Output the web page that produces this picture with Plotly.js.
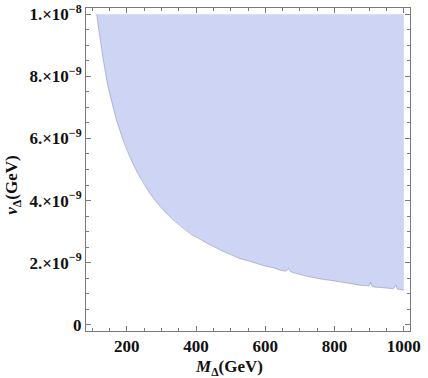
<!DOCTYPE html>
<html>
<head>
<meta charset="utf-8">
<script src="https://cdn.plot.ly/plotly-3.0.1.min.js"></script>
<style>
  html, body { margin: 0; padding: 0; background: #fff; }
  #chart { width: 428px; height: 378px; }
</style>
</head>
<body>
<div id="chart"></div>
<script>
// Allowed region boundary (lower edge)
const massGeV = [113, 119, 125, 131, 137, 145, 156, 170, 188, 199, 215, 232, 250, 267, 285, 310, 335, 362, 390, 405, 420, 441, 460, 475, 500, 527, 550, 571, 600, 623, 643, 660, 667, 675, 700, 721, 745, 768, 790, 817, 835, 855, 875, 900, 904, 908, 913, 935, 953, 970, 977, 982, 1000];
const vevBoundary = [10.0, 9.5, 9.05, 8.6, 8.2, 7.7, 7.2, 6.6, 5.98, 5.66, 5.25, 4.87, 4.52, 4.23, 3.96, 3.64, 3.37, 3.12, 2.88, 2.80, 2.70, 2.57, 2.47, 2.38, 2.26, 2.13, 2.06, 1.99, 1.89, 1.84, 1.76, 1.73, 1.81, 1.70, 1.62, 1.56, 1.51, 1.46, 1.43, 1.38, 1.35, 1.31, 1.27, 1.26, 1.37, 1.24, 1.22, 1.20, 1.18, 1.16, 1.27, 1.15, 1.12]; // units of 1e-9 GeV
const vevCap = 10.0; // upper edge of scanned region, 1e-9 GeV

// Axis ticks
const xTickVals = [200, 400, 600, 800, 1000];
const xTickText = ['200', '400', '600', '800', '1000'];
const yTickVals = [0, 2e-9, 4e-9, 6e-9, 8e-9, 1e-8];
const yTickText = ['0', '2.\u00d710<sup>\u22129</sup>', '4.\u00d710<sup>\u22129</sup>', '6.\u00d710<sup>\u22129</sup>',
                   '8.\u00d710<sup>\u22129</sup>', '1.\u00d710<sup>\u22128</sup>'];

const scale = 1e-9;
const lowerY = vevBoundary.map(v => v * scale);

// closed polygon: lower boundary, then back along the top edge
const polyX = massGeV.concat([massGeV[massGeV.length - 1], massGeV[0]]);
const polyY = lowerY.concat([vevCap * scale, vevCap * scale]);

const fillColor = '#cdd4f4';
const frameColor = '#7a7a7a';
const serif = 'Liberation Serif, DejaVu Serif, serif';
const boldFont = { family: serif, size: 17, color: '#111', weight: 'bold' };

const data = [{
    x: polyX,
    y: polyY,
    type: 'scatter',
    mode: 'lines',
    fill: 'toself',
    fillcolor: fillColor,
    line: { width: 0, color: fillColor },
    hoverinfo: 'skip'
}, {
    x: massGeV,
    y: lowerY,
    type: 'scatter',
    mode: 'lines',
    line: { color: 'rgba(120,125,170,0.5)', width: 1, shape: 'spline', smoothing: 0.4 },
    hoverinfo: 'skip'
}];

const layout = {
    width: 428,
    height: 378,
    margin: { l: 86, r: 18, t: 8, b: 47 },
    paper_bgcolor: '#fff',
    plot_bgcolor: '#fff',
    showlegend: false,
    font: { family: serif, size: 17, color: '#111' },
    xaxis: {
        range: [82, 1018],
        tickvals: xTickVals,
        ticktext: xTickText,
        ticks: 'inside',
        ticklen: 5,
        tickwidth: 1,
        tickcolor: frameColor,
        minor: { dtick: 50, ticks: 'inside', ticklen: 3, tickcolor: frameColor, showgrid: false },
        showline: true,
        linecolor: frameColor,
        linewidth: 1,
        mirror: 'allticks',
        showgrid: false,
        zeroline: false,
        tickfont: boldFont
    },
    yaxis: {
        range: [-0.2e-9, 10.2e-9],
        tickvals: yTickVals,
        ticktext: yTickText,
        ticks: 'inside',
        ticklen: 5,
        tickwidth: 1,
        tickcolor: frameColor,
        minor: { dtick: 0.5e-9, ticks: 'inside', ticklen: 3, tickcolor: frameColor, showgrid: false },
        showline: true,
        linecolor: frameColor,
        linewidth: 1,
        mirror: 'allticks',
        showgrid: false,
        zeroline: false,
        tickfont: boldFont
    },
    annotations: [{
        text: '<i>M</i><sub>\u0394</sub>(GeV)',
        xref: 'paper', yref: 'paper',
        x: 0.44, y: -0.115,
        xanchor: 'center', yanchor: 'middle',
        showarrow: false,
        font: boldFont
    }, {
        text: '<i>v</i><sub>\u0394</sub>(GeV)',
        xref: 'paper', yref: 'paper',
        x: -0.225, y: 0.45,
        xanchor: 'center', yanchor: 'middle',
        textangle: -90,
        showarrow: false,
        font: boldFont
    }]
};

Plotly.newPlot('chart', data, layout, { staticPlot: true, displayModeBar: false });
</script>
</body>
</html>
